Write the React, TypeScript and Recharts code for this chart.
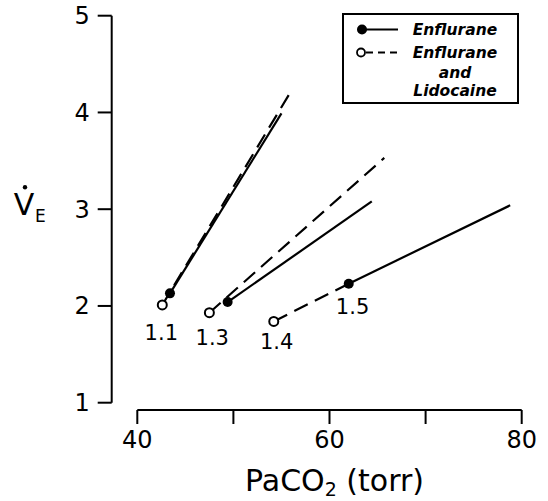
import { ComposedChart, Line, Scatter, XAxis, YAxis, Legend, Label } from "recharts";

// axis ticks
const xTicks = [40, 50, 60, 70, 80];
const xTickLabels: Record<number, string> = { 40: "40", 50: "", 60: "60", 70: "", 80: "80" };
const yTicks = [1, 2, 3, 4, 5];

// Enflurane (solid) response lines
const enflurane11 = [{ x: 43.4, y: 2.13 }, { x: 55.0, y: 3.99 }];
const enflurane13 = [{ x: 49.4, y: 2.04 }, { x: 64.4, y: 3.08 }];
const enflurane15 = [{ x: 62.0, y: 2.23 }, { x: 78.8, y: 3.04 }];

// Enflurane and Lidocaine (dashed) response lines
const lidocaine11 = [{ x: 42.6, y: 2.01 }, { x: 56.0, y: 4.22 }];
const lidocaine13 = [{ x: 47.5, y: 1.93 }, { x: 65.7, y: 3.53 }];
const lidocaine14 = [{ x: 54.2, y: 1.84 }, { x: 62.0, y: 2.23 }];

// resting points
const filledPoints = [{ x: 43.4, y: 2.13 }, { x: 49.4, y: 2.04 }, { x: 62.0, y: 2.23 }];
const openPoints = [{ x: 42.6, y: 2.01 }, { x: 47.5, y: 1.93 }, { x: 54.2, y: 1.84 }];

// MAC labels
const macLabels = [
  { x: 42.5, y: 1.72, label: "1.1" },
  { x: 47.8, y: 1.67, label: "1.3" },
  { x: 54.5, y: 1.63, label: "1.4" },
  { x: 62.4, y: 1.99, label: "1.5" },
];

const FONT = "DejaVu Sans";
const solidLines = [enflurane11, enflurane13, enflurane15];
const dashedLines = [lidocaine11, lidocaine13, lidocaine14];

function LegendBox() {
  return (
    <svg width={177} height={91} style={{ display: "block" }}>
      <rect x={1} y={1} width={175} height={89} fill="#fff" stroke="#000" strokeWidth={2} />
      <line x1={20} y1={16.5} x2={56} y2={16.5} stroke="#000" strokeWidth={2} />
      <circle cx={20} cy={16.5} r={5} fill="#000" />
      <line x1={24} y1={39.5} x2={57} y2={39.5} stroke="#000" strokeWidth={2} strokeDasharray="7 5" />
      <circle cx={19} cy={39.5} r={4} fill="#fff" stroke="#000" strokeWidth={1.8} />
      <g fontFamily={FONT} fontStyle="italic" fontWeight="bold" fontSize={15.5} fill="#000" textAnchor="middle">
        <text x={113} y={22}>Enflurane</text>
        <text x={113} y={45}>Enflurane</text>
        <text x={113} y={65}>and</text>
        <text x={113} y={83}>Lidocaine</text>
      </g>
    </svg>
  );
}

function YLabel(props: any) {
  const { x, y, height } = props.viewBox;
  const cy = y + height / 2;
  return (
    <g fill="#000" fontFamily={FONT}>
      <circle cx={x + 25} cy={cy - 22} r={2.2} />
      <text x={x + 24} y={cy + 6} fontSize={30} textAnchor="middle">V</text>
      <text x={x + 35} y={cy + 13} fontSize={17}>E</text>
    </g>
  );
}

function XLabel(props: any) {
  const { x, y, width } = props.viewBox;
  return (
    <text x={x + width / 2 + 5} y={y + 81} fontSize={30} fontFamily={FONT} fill="#000" textAnchor="middle">
      <tspan>PaCO</tspan>
      <tspan fontSize={19} dy={5}>2</tspan>
      <tspan dy={-5}> (torr)</tspan>
    </text>
  );
}

const FilledDot = (p: any) => <circle cx={p.cx} cy={p.cy} r={5} fill="#000" />;
const OpenDot = (p: any) => (
  <circle cx={p.cx} cy={p.cy} r={4.5} fill="#fff" stroke="#000" strokeWidth={2} />
);
const MacText = (p: any) => (
  <text x={p.cx} y={p.cy} fontSize={21} fontFamily={FONT} fill="#000" textAnchor="middle" dominantBaseline="central">
    {p.payload.label}
  </text>
);

export default function App() {
  const axisStyle = { stroke: "#000", strokeWidth: 2 };
  return (
    <div style={{ position: "absolute", left: 0, top: 0, background: "#fff" }}>
      <ComposedChart width={548} height={501} margin={{ top: 15.7, right: 26.3, bottom: 0, left: 0 }}>
        {/* spacer axes so the drawn axes sit off the plot edges */}
        <XAxis xAxisId="a" type="number" domain={[40, 80]} height={7.3} tick={false} axisLine={false} tickLine={false} />
        <YAxis yAxisId="a" type="number" domain={[1, 5]} width={25.6} tick={false} axisLine={false} tickLine={false} />
        <XAxis
          xAxisId="b"
          type="number"
          dataKey="x"
          domain={[40, 80]}
          ticks={xTicks}
          tickFormatter={(v: number) => xTickLabels[v] ?? ""}
          height={91}
          tickSize={14}
          tickMargin={7}
          axisLine={axisStyle}
          tickLine={axisStyle}
          tick={{ fill: "#000", fontSize: 24, fontFamily: FONT }}
          allowDataOverflow
        >
          <Label content={XLabel} />
        </XAxis>
        <YAxis
          yAxisId="b"
          type="number"
          dataKey="y"
          domain={[1, 5]}
          ticks={yTicks}
          width={111.7}
          tickSize={14}
          tickMargin={8}
          axisLine={axisStyle}
          tickLine={axisStyle}
          tick={{ fill: "#000", fontSize: 24, fontFamily: FONT }}
          allowDataOverflow
        >
          <Label content={YLabel} />
        </YAxis>

        {solidLines.map((d, i) => (
          <Line
            key={"s" + i}
            xAxisId="b"
            yAxisId="b"
            data={d}
            dataKey="y"
            type="linear"
            stroke="#000"
            strokeWidth={2.2}
            dot={false}
            activeDot={false}
            isAnimationActive={false}
            legendType="none"
          />
        ))}
        {dashedLines.map((d, i) => (
          <Line
            key={"d" + i}
            xAxisId="b"
            yAxisId="b"
            data={d}
            dataKey="y"
            type="linear"
            stroke="#000"
            strokeWidth={2.2}
            strokeDasharray="15 8"
            dot={false}
            activeDot={false}
            isAnimationActive={false}
            legendType="none"
          />
        ))}
        <Scatter xAxisId="b" yAxisId="b" data={filledPoints} dataKey="y" shape={FilledDot} isAnimationActive={false} />
        <Scatter xAxisId="b" yAxisId="b" data={openPoints} dataKey="y" shape={OpenDot} isAnimationActive={false} />
        <Scatter xAxisId="b" yAxisId="b" data={macLabels} dataKey="y" shape={MacText} isAnimationActive={false} />

        <Legend
          layout="vertical"
          align="center"
          verticalAlign="middle"
          content={() => <LegendBox />}
          wrapperStyle={{ left: 342, top: 13, width: 177, height: 91 }}
        />
      </ComposedChart>
    </div>
  );
}
